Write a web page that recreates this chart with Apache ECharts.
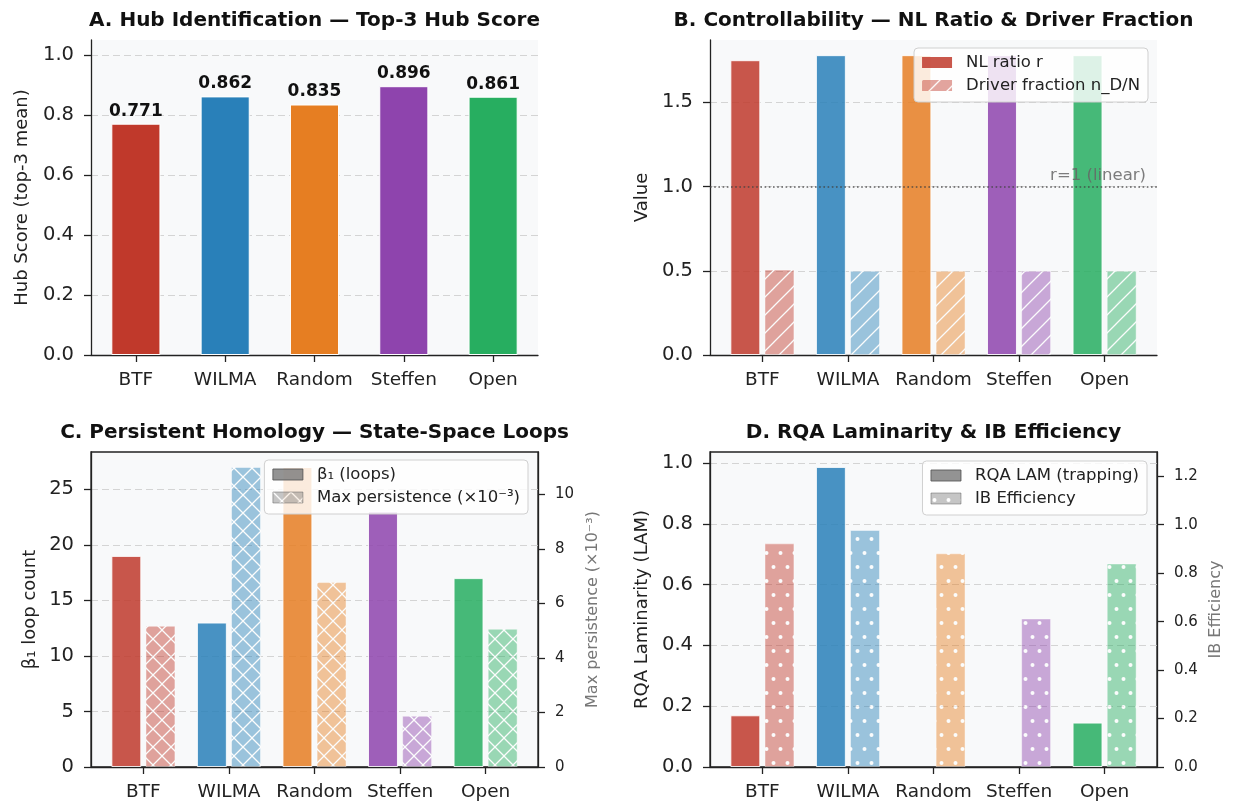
<!DOCTYPE html>
<html><head><meta charset="utf-8">
<script src="https://cdn.jsdelivr.net/npm/echarts@6/dist/echarts.min.js"></script>
<style>html,body{margin:0;padding:0;background:#fff}#c{width:1233px;height:804px}</style>
</head><body><div id="c"></div>
<script>
// ---------- data ----------
const categories = ['BTF', 'WILMA', 'Random', 'Steffen', 'Open'];
const colors = ['#c0392b', '#2980b9', '#e67e22', '#8e44ad', '#27ae60'];
const hubScore = [0.771, 0.862, 0.835, 0.896, 0.861];
const nlRatio = [1.75, 1.78, 1.78, 1.78, 1.78];
const driverFraction = [0.507, 0.5, 0.5, 0.5, 0.5];
const beta1Loops = [19, 13, 27, 23, 17];
const maxPersistence = [5.18, 11.0, 6.78, 1.88, 5.07];
const rqaLam = [0.170, 0.987, 0, 0, 0.146];
const ibEfficiency = [0.923, 0.978, 0.882, 0.613, 0.840];
const catTicks = [0, 1, 2, 3, 4];
const hubTicks = [0, 0.2, 0.4, 0.6, 0.8, 1.0];
const ctrlTicks = [0, 0.5, 1.0, 1.5];
const loopTicks = [0, 5, 10, 15, 20, 25];
const persTicks = [0, 2, 4, 6, 8, 10];
const lamTicks = [0, 0.2, 0.4, 0.6, 0.8, 1.0];
const ibTicks = [0, 0.2, 0.4, 0.6, 0.8, 1.0, 1.2];

// ---------- helpers ----------
const FONT = 'DejaVu Sans';
const INK = '#222';
function hatch(color, kind) {
  const c = document.createElement('canvas');
  let w = 18, h = 18;
  if (kind === 'dot') { w = 14; h = 28; }
  c.width = w; c.height = h;
  const g = c.getContext('2d');
  g.fillStyle = color; g.fillRect(0, 0, w, h);
  g.strokeStyle = '#ffffff'; g.fillStyle = '#ffffff'; g.lineWidth = 1.3;
  if (kind === '/' || kind === 'x') {
    g.beginPath();
    for (const k of [0, 1, 2]) { g.moveTo(-2, k * h + 2); g.lineTo(k * h + 2, -2); }
    g.stroke();
  }
  if (kind === 'x') {
    g.beginPath();
    for (const k of [-1, 0, 1]) { g.moveTo(k * w - 2, -2); g.lineTo(k * w + w + 2, h + 2); }
    g.stroke();
  }
  if (kind === 'dot') {
    g.beginPath(); g.arc(3.5, 7, 2, 0, Math.PI * 2); g.fill();
    g.beginPath(); g.arc(10.5, 21, 2, 0, Math.PI * 2); g.fill();
  }
  return { image: c, repeat: 'repeat' };
}
function bars(vals, opacity, kind) {
  return vals.map((v, i) => ({
    value: [i, v],
    itemStyle: {
      color: kind ? hatch(colors[i], kind) : colors[i],
      opacity: opacity, borderColor: '#ffffff', borderWidth: v === 0 ? 0 : 1
    }
  }));
}
const grids = [
  { left: 91, top: 40, width: 447, height: 315 },
  { left: 710, top: 40, width: 447, height: 315 },
  { left: 91, top: 452, width: 447, height: 315 },
  { left: 710, top: 452, width: 447, height: 315 }
];
function xAxisCfg(gi, lo, hi) {
  return {
    type: 'value', gridIndex: gi, min: lo, max: hi,
    axisLine: { show: true, onZero: false, lineStyle: { color: INK, width: 1.3 } },
    axisTick: { show: true, customValues: catTicks, length: 7, lineStyle: { color: INK, width: 1.3 } },
    axisLabel: { customValues: catTicks, formatter: v => categories[Math.round(v)], fontSize: 18.5, color: INK, margin: 16, fontFamily: FONT },
    splitLine: { show: false }
  };
}
function yAxisCfg(gi, hi, ticks, dec, name, nameGap, right) {
  return {
    type: 'value', gridIndex: gi, min: 0, max: hi, position: right ? 'right' : 'left',
    name: name, nameLocation: 'middle', nameGap: nameGap, nameRotate: 90,
    nameTextStyle: { fontSize: right ? 16 : 18, color: right ? '#777' : INK, fontFamily: FONT },
    axisLine: { show: true, onZero: false, lineStyle: { color: INK, width: 1.3 } },
    axisTick: { show: true, customValues: ticks, length: 7, lineStyle: { color: INK, width: 1.3 } },
    axisLabel: { customValues: ticks, formatter: v => Number(v).toFixed(dec), fontSize: right ? 15 : 19.5, color: INK, margin: 17, fontFamily: FONT },
    splitLine: { show: !right, lineStyle: { color: '#d4d4d4', type: [7, 4], width: 1 } }
  };
}
function legendCfg(right, top, items) {
  return {
    orient: 'vertical', right: right, top: top, selectedMode: false,
    icon: 'rect', itemWidth: 30, itemHeight: 11, itemGap: 6,
    padding: [6, 8, 8, 8], backgroundColor: 'rgba(255,255,255,0.82)',
    borderColor: '#d0d0d0', borderWidth: 1, borderRadius: 4,
    textStyle: { fontSize: 16.5, color: INK, fontFamily: FONT, padding: [0, 0, 0, 9] },
    data: items
  };
}
const gray = '#808080';
const titleStyle = { fontSize: 20, fontWeight: 'bold', color: '#111', fontFamily: FONT };

const option = {
  animation: false,
  backgroundColor: '#ffffff',
  title: [
    { text: 'A. Hub Identification — Top-3 Hub Score', left: 314.5, top: 11, textAlign: 'center', padding: 0, textStyle: titleStyle },
    { text: 'B. Controllability — NL Ratio & Driver Fraction', left: 933.5, top: 11, textAlign: 'center', padding: 0, textStyle: titleStyle },
    { text: 'C. Persistent Homology — State-Space Loops', left: 314.5, top: 423, textAlign: 'center', padding: 0, textStyle: titleStyle },
    { text: 'D. RQA Laminarity & IB Efficiency', left: 933.5, top: 423, textAlign: 'center', padding: 0, textStyle: titleStyle }
  ],
  grid: grids.map((g, i) => Object.assign({
    show: true, backgroundColor: '#f8f9fa',
    borderWidth: i >= 2 ? 1.3 : 0, borderColor: INK
  }, g)),
  xAxis: [
    xAxisCfg(0, -0.5025, 4.5025),
    xAxisCfg(1, -0.6125, 4.6125),
    xAxisCfg(2, -0.6125, 4.6125),
    xAxisCfg(3, -0.6125, 4.6125)
  ],
  yAxis: [
    yAxisCfg(0, 1.05, hubTicks, 1, 'Hub Score (top-3 mean)', 60, false),
    yAxisCfg(1, 1.87, ctrlTicks, 1, 'Value', 59, false),
    yAxisCfg(2, 28.35, loopTicks, 0, 'β₁ loop count', 52, false),
    yAxisCfg(2, 11.55, persTicks, 0, 'Max persistence (×10⁻³)', 47, true),
    yAxisCfg(3, 1.036, lamTicks, 1, 'RQA Laminarity (LAM)', 59, false),
    yAxisCfg(3, 1.3, ibTicks, 1, 'IB Efficiency', 51, true)
  ],
  legend: [
    legendCfg(85, 48, [
      { name: 'NL ratio r', itemStyle: { color: colors[0], opacity: 0.85 } },
      { name: 'Driver fraction n_D/N', itemStyle: { color: hatch(colors[0], '/'), opacity: 0.45 } }
    ]),
    legendCfg(705, 460, [
      { name: 'β₁ (loops)', itemStyle: { color: gray, opacity: 0.85, borderColor: '#555', borderWidth: 1 } },
      { name: 'Max persistence (×10⁻³)', itemStyle: { color: hatch(gray, 'x'), opacity: 0.45, borderColor: '#555', borderWidth: 1 } }
    ]),
    legendCfg(86, 461, [
      { name: 'RQA LAM (trapping)', itemStyle: { color: gray, opacity: 0.85, borderColor: '#555', borderWidth: 1 } },
      { name: 'IB Efficiency', itemStyle: { color: hatch(gray, 'dot'), opacity: 0.45, borderColor: '#555', borderWidth: 1 } }
    ])
  ],
  series: [
    {
      type: 'bar', name: 'Hub Score', xAxisIndex: 0, yAxisIndex: 0, barWidth: '55%',
      data: bars(hubScore, 1, null),
      label: { show: true, position: 'top', distance: 4, fontWeight: 'bold', fontSize: 17, color: '#111', fontFamily: FONT,
        formatter: p => p.value[1].toFixed(3) }
    },
    { type: 'bar', name: 'NL ratio r', xAxisIndex: 1, yAxisIndex: 1, barWidth: '35%', barGap: '14%', data: bars(nlRatio, 0.85, null) },
    {
      type: 'bar', name: 'Driver fraction n_D/N', xAxisIndex: 1, yAxisIndex: 1, barWidth: '35%', barGap: '14%',
      data: bars(driverFraction, 0.45, '/'),
      markLine: {
        silent: true, symbol: 'none', data: [{ yAxis: 1 }],
        lineStyle: { type: [1.6, 2.6], color: '#444', width: 1.6, opacity: 0.85 },
        label: { show: true, position: 'insideEndTop', formatter: 'r=1 (linear)', color: '#666', fontSize: 16.5, fontFamily: FONT, distance: 2, padding: [0, 9, 0, 0] }
      }
    },
    { type: 'bar', name: 'β₁ (loops)', xAxisIndex: 2, yAxisIndex: 2, barWidth: '35%', barGap: '14%', data: bars(beta1Loops, 0.85, null) },
    { type: 'bar', name: 'Max persistence (×10⁻³)', xAxisIndex: 2, yAxisIndex: 3, barWidth: '35%', barGap: '14%', data: bars(maxPersistence, 0.45, 'x') },
    { type: 'bar', name: 'RQA LAM (trapping)', xAxisIndex: 3, yAxisIndex: 4, barWidth: '35%', barGap: '14%', data: bars(rqaLam, 0.85, null) },
    { type: 'bar', name: 'IB Efficiency', xAxisIndex: 3, yAxisIndex: 5, barWidth: '35%', barGap: '14%', data: bars(ibEfficiency, 0.45, 'dot') }
  ]
};
const chart = echarts.init(document.getElementById('c'), null, { renderer: 'canvas' });
chart.setOption(option);
</script>
</body></html>
